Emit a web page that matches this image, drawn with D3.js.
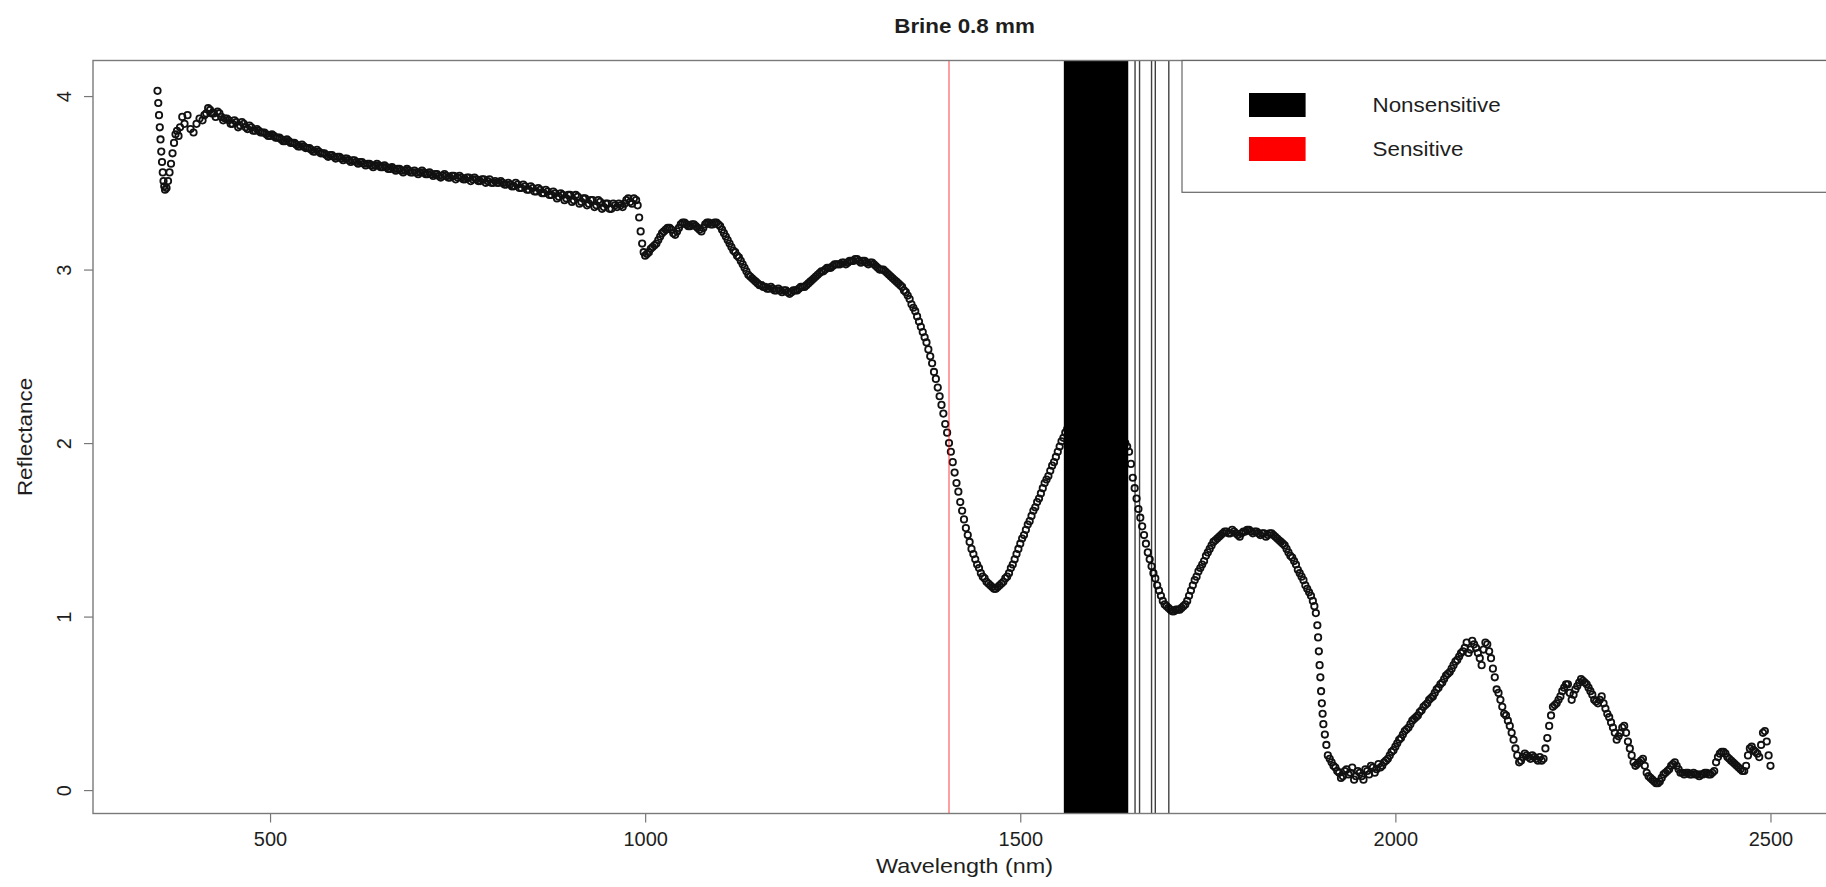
<!DOCTYPE html>
<html><head><meta charset="utf-8">
<script src="https://cdn.jsdelivr.net/npm/d3@7"></script>
<style>
html,body{margin:0;padding:0;background:#fff;overflow:hidden}
text{font-family:"Liberation Sans",Arial,Helvetica,sans-serif;fill:#1e1e1e}
</style>
</head><body>
<svg id="chart" width="1826" height="887"></svg>
<script>
const chartTitle = "Brine 0.8 mm";
const xLabel = "Wavelength (nm)";
const yLabel = "Reflectance";
const xTicks = [500, 1000, 1500, 2000, 2500];
const yTicks = [0, 1, 2, 3, 4];
const legendLabels = ["Nonsensitive", "Sensitive"];
const legendColors = ["#000000", "#ff0000"];
const nonsensitiveBands = [[1559, 1643], [1653, 1653], [1659, 1659], [1675, 1675], [1680, 1680], [1698, 1698]];
const sensitiveBands = [[1405, 1405]];

// spectrum readings (nm)
const wavelengths = [
350,351,352,353,354,355,356,357,358,359,360,362,364,366,368,370,372,374,376,378,380,383,386,390,394,398,402,406,410,415,420,425,430,435,440,445,450,
455,460,465,470,475,480,485,490,495,500,505,510,515,520,525,530,535,540,545,550,555,560,565,570,575,580,585,590,595,600,
605,610,615,620,625,630,635,640,645,650,655,660,665,670,675,680,685,690,695,700,705,710,715,720,725,730,735,740,745,750,
755,760,765,770,775,780,785,790,795,800,805,810,815,820,825,830,835,840,845,850,855,860,865,870,875,880,885,890,895,900,
905,910,915,920,925,930,935,940,945,950,955,960,965,970,975,980,985,988,990,992,994,996,998,1000,
1005,1010,1015,1020,1025,1030,1035,1040,1045,1050,1055,1060,1065,1070,1075,1080,1085,1090,1095,1100,
1105,1110,1115,1120,1125,1130,1135,1140,1145,1150,1155,1160,1165,1170,1175,1180,1185,1190,1195,1200,
1205,1210,1215,1220,1225,1230,1235,1240,1245,1250,1255,1260,1265,1270,1275,1280,1285,1290,1295,1300,
1305,1310,1315,1320,1325,1330,1335,1340,1345,1350,1355,1360,1365,1370,1375,1380,1385,1390,1395,1400,
1405,1410,1415,1420,1425,1430,1435,1440,1445,1450,1455,1460,1465,1470,1475,1480,1485,1490,1495,1500,
1505,1510,1515,1520,1525,1530,1535,1540,1545,1550,1555,1560,1565,1570,1575,1580,1585,1590,1595,1600,
1605,1610,1615,1620,1625,1630,1635,1640,1645,1650,1655,1660,1665,1670,1675,1680,1685,1690,1695,1700,
1705,1710,1715,1720,1725,1730,1735,1740,1745,1750,1755,1760,1765,1770,1775,1780,1785,1790,1795,1800,
1805,1810,1815,1820,1825,1830,1835,1840,1845,1850,1855,1860,1865,1870,1875,1880,1885,1890,
1892,1894,1896,1897,1898,1899,1900,1901,1902,1903,1904,1906,1908,1910,
1915,1920,1925,1930,1935,1940,1945,1950,1955,1960,1965,1970,1975,1980,1985,1990,1995,2000,
2005,2010,2015,2020,2025,2030,2035,2040,2045,2050,2055,2060,2065,2070,2075,2080,2085,2090,2095,2100,
2105,2110,2115,2120,2125,2130,2135,2140,2145,2150,2155,2160,2165,2170,2175,2180,2185,2190,2195,2200,
2205,2210,2215,2220,2225,2230,2235,2240,2245,2250,2255,2260,2265,2270,2275,2280,2285,2290,2295,2300,
2305,2310,2315,2320,2325,2330,2335,2340,2345,2350,2355,2360,2365,2370,2375,2380,2385,2390,2395,2400,
2405,2410,2415,2420,2425,2430,2435,2440,2445,2450,2455,2460,2465,2470,2475,2480,2485,2490,2495,2500
];

const reflectance = [
4.03,3.96,3.89,3.82,3.75,3.68,3.62,3.56,3.51,3.48,3.46,3.47,3.51,3.56,3.61,3.67,3.73,3.78,3.80,3.77,3.82,3.88,3.84,3.89,3.81,3.79,3.84,3.87,3.86,3.90,3.92,3.90,3.91,3.88,3.87,3.86,3.84,
3.85,3.83,3.84,3.81,3.82,3.80,3.80,3.79,3.78,3.77,3.77,3.76,3.75,3.74,3.74,3.73,3.72,3.71,3.71,3.70,3.69,3.68,3.68,3.67,3.66,3.66,3.65,3.65,3.64,3.64,
3.63,3.63,3.62,3.62,3.61,3.61,3.60,3.60,3.60,3.59,3.59,3.58,3.58,3.58,3.57,3.57,3.57,3.56,3.56,3.56,3.56,3.55,3.55,3.55,3.54,3.54,3.54,3.53,3.54,3.53,
3.53,3.52,3.53,3.52,3.52,3.51,3.52,3.51,3.50,3.51,3.50,3.50,3.49,3.49,3.48,3.49,3.47,3.48,3.46,3.47,3.45,3.46,3.44,3.45,3.43,3.44,3.42,3.43,3.41,3.43,
3.40,3.42,3.39,3.41,3.38,3.40,3.37,3.39,3.36,3.38,3.35,3.37,3.38,3.36,3.40,3.39,3.41,3.40,3.37,3.30,3.22,3.15,3.10,3.08,
3.10,3.13,3.15,3.19,3.22,3.24,3.23,3.20,3.24,3.27,3.26,3.25,3.26,3.24,3.22,3.26,3.27,3.26,3.27,3.25,
3.21,3.17,3.13,3.10,3.07,3.03,2.99,2.96,2.94,2.92,2.91,2.90,2.89,2.89,2.88,2.88,2.88,2.87,2.87,2.88,
2.89,2.90,2.91,2.93,2.95,2.97,2.99,3.00,3.01,3.02,3.03,3.03,3.04,3.04,3.05,3.06,3.05,3.05,3.04,3.04,
3.03,3.01,3.00,2.99,2.97,2.95,2.93,2.91,2.88,2.85,2.80,2.76,2.70,2.64,2.58,2.50,2.41,2.32,2.22,2.11,
2.00,1.89,1.77,1.66,1.56,1.47,1.39,1.33,1.28,1.23,1.20,1.18,1.16,1.17,1.19,1.22,1.25,1.30,1.36,1.42,
1.47,1.53,1.58,1.63,1.68,1.74,1.79,1.84,1.89,1.95,2.01,2.06,2.09,2.12,2.14,2.16,2.17,2.18,2.18,2.17,
2.16,2.15,2.13,2.11,2.09,2.06,2.03,2.00,1.95,1.80,1.68,1.57,1.47,1.37,1.29,1.22,1.15,1.09,1.06,1.04,
1.03,1.04,1.05,1.07,1.12,1.18,1.23,1.28,1.32,1.37,1.41,1.44,1.46,1.48,1.49,1.48,1.49,1.47,1.48,1.49,
1.50,1.48,1.49,1.47,1.48,1.47,1.48,1.46,1.44,1.42,1.39,1.35,1.32,1.27,1.23,1.18,1.14,1.09,
1.06,1.02,0.95,0.88,0.80,0.72,0.65,0.57,0.50,0.44,0.38,0.32,0.26,0.20,
0.16,0.13,0.10,0.08,0.12,0.10,0.06,0.11,0.08,0.12,0.09,0.13,0.12,0.13,0.16,0.18,0.22,0.25,
0.29,0.32,0.35,0.38,0.41,0.43,0.46,0.49,0.52,0.54,0.58,0.61,0.64,0.67,0.70,0.74,0.77,0.80,0.85,0.81,
0.84,0.79,0.72,0.85,0.80,0.70,0.58,0.52,0.44,0.40,0.33,0.24,0.16,0.19,0.20,0.18,0.19,0.17,0.17,0.24,
0.37,0.48,0.50,0.54,0.59,0.61,0.52,0.58,0.62,0.63,0.61,0.57,0.52,0.50,0.54,0.47,0.42,0.36,0.29,0.33,
0.37,0.28,0.20,0.14,0.16,0.18,0.10,0.07,0.05,0.04,0.07,0.10,0.12,0.15,0.14,0.10,0.09,0.10,0.09,0.09,
0.08,0.09,0.10,0.09,0.11,0.19,0.22,0.21,0.18,0.16,0.14,0.12,0.11,0.20,0.25,0.22,0.19,0.33,0.28,0.14
];

// additional readings between the ones above (nm)
const wavelengthsMid = [
412.5,417.5,422.5,427.5,432.5,437.5,442.5,447.5,452.5,457.5,462.5,467.5,472.5,477.5,482.5,487.5,492.5,497.5,502.5,507.5,
512.5,517.5,522.5,527.5,532.5,537.5,542.5,547.5,552.5,557.5,562.5,567.5,572.5,577.5,582.5,587.5,592.5,597.5,602.5,607.5,
612.5,617.5,622.5,627.5,632.5,637.5,642.5,647.5,652.5,657.5,662.5,667.5,672.5,677.5,682.5,687.5,692.5,697.5,702.5,707.5,
712.5,717.5,722.5,727.5,732.5,737.5,742.5,747.5,752.5,757.5,762.5,767.5,772.5,777.5,782.5,787.5,792.5,797.5,802.5,807.5,
812.5,817.5,822.5,827.5,832.5,837.5,842.5,847.5,852.5,857.5,862.5,867.5,872.5,877.5,882.5,887.5,892.5,897.5,902.5,907.5,
912.5,917.5,922.5,927.5,932.5,937.5,942.5,947.5,952.5,957.5,962.5,967.5,972.5,977.5,982.5,
1002.5,1007.5,1012.5,1017.5,1022.5,1027.5,1032.5,1037.5,1042.5,1047.5,1052.5,1057.5,1062.5,1067.5,1072.5,1077.5,1082.5,1087.5,1092.5,1097.5,
1102.5,1107.5,1112.5,1117.5,1122.5,1127.5,1132.5,1137.5,1142.5,1147.5,1152.5,1157.5,1162.5,1167.5,1172.5,1177.5,1182.5,1187.5,1192.5,1197.5,
1202.5,1207.5,1212.5,1217.5,1222.5,1227.5,1232.5,1237.5,1242.5,1247.5,1252.5,1257.5,1262.5,1267.5,1272.5,1277.5,1282.5,1287.5,1292.5,1297.5,
1302.5,1307.5,1312.5,1317.5,1322.5,1327.5,1332.5,1337.5,1342.5,1347.5,1352.5,1357.5,1362.5,1367.5,1372.5,1377.5,1382.5,1387.5,1392.5,1397.5,
1402.5,1407.5,1412.5,1417.5,1422.5,1427.5,1432.5,1437.5,1442.5,1447.5,1452.5,1457.5,1462.5,1467.5,1472.5,1477.5,1482.5,1487.5,1492.5,1497.5,
1502.5,1507.5,1512.5,1517.5,1522.5,1527.5,1532.5,1537.5,1542.5,1547.5,1552.5,1557.5,1562.5,1567.5,1572.5,1577.5,1582.5,1587.5,1592.5,1597.5,
1602.5,1607.5,1612.5,1617.5,1622.5,1627.5,1632.5,1637.5,1642.5,1647.5,1652.5,1657.5,1662.5,1667.5,1672.5,1677.5,1682.5,1687.5,1692.5,1697.5,
1702.5,1707.5,1712.5,1717.5,1722.5,1727.5,1732.5,1737.5,1742.5,1747.5,1752.5,1757.5,1762.5,1767.5,1772.5,1777.5,1782.5,1787.5,1792.5,1797.5,
1802.5,1807.5,1812.5,1817.5,1822.5,1827.5,1832.5,1837.5,1842.5,1847.5,1852.5,1857.5,1862.5,1867.5,1872.5,1877.5,1882.5,1887.5,
1912.5,1917.5,1922.5,1927.5,1932.5,1937.5,1942.5,1947.5,1952.5,1957.5,1962.5,1967.5,1972.5,1977.5,1982.5,1987.5,1992.5,1997.5,2002.5,2007.5,
2012.5,2017.5,2022.5,2027.5,2032.5,2037.5,2042.5,2047.5,2052.5,2057.5,2062.5,2067.5,2072.5,2077.5,2082.5,2087.5,2092.5,2097.5,2102.5,2107.5,
2112.5,2117.5,2122.5,2127.5,2132.5,2137.5,2142.5,2147.5,2152.5,2157.5,2162.5,2167.5,2172.5,2177.5,2182.5,2187.5,2192.5,2197.5,2202.5,2207.5,
2212.5,2217.5,2222.5,2227.5,2232.5,2237.5,2242.5,2247.5,2252.5,2257.5,2262.5,2267.5,2272.5,2277.5,2282.5,2287.5,2292.5,2297.5,2302.5,2307.5,
2312.5,2317.5,2322.5,2327.5,2332.5,2337.5,2342.5,2347.5,2352.5,2357.5,2362.5,2367.5,2372.5,2377.5,2382.5,2387.5,2392.5,2397.5,2402.5,2407.5,
2412.5,2417.5,2422.5,2427.5,2432.5,2437.5,2442.5,2447.5,2452.5,2457.5,2462.5,2467.5,2472.5,2477.5,2482.5,2487.5,2492.5,2497.5
];

const reflectanceMid = [
3.89,3.93,3.90,3.88,3.90,3.86,3.87,3.84,3.86,3.82,3.85,3.82,3.83,3.80,3.81,3.79,3.79,3.77,3.78,3.76,
3.76,3.74,3.75,3.73,3.73,3.71,3.72,3.70,3.70,3.68,3.69,3.67,3.67,3.65,3.66,3.64,3.65,3.63,3.64,3.62,
3.63,3.61,3.62,3.60,3.61,3.59,3.61,3.59,3.60,3.58,3.59,3.57,3.58,3.56,3.58,3.56,3.57,3.55,3.57,3.55,
3.56,3.54,3.55,3.53,3.55,3.53,3.54,3.52,3.54,3.52,3.53,3.51,3.53,3.51,3.52,3.50,3.52,3.50,3.50,3.51,
3.49,3.50,3.48,3.50,3.47,3.49,3.46,3.48,3.45,3.47,3.44,3.46,3.43,3.45,3.41,3.44,3.40,3.43,3.39,3.43,
3.38,3.41,3.37,3.40,3.36,3.40,3.35,3.38,3.35,3.38,3.36,3.37,3.38,3.41,3.38,
3.09,3.12,3.14,3.17,3.21,3.23,3.24,3.21,3.22,3.26,3.27,3.25,3.26,3.25,3.23,3.24,3.27,3.26,3.27,3.26,
3.23,3.19,3.15,3.11,3.08,3.05,3.01,2.97,2.95,2.93,2.91,2.90,2.89,2.90,2.88,2.89,2.87,2.88,2.86,2.88,
2.88,2.90,2.90,2.92,2.94,2.96,2.98,2.99,3.01,3.01,3.03,3.03,3.04,3.03,3.05,3.05,3.06,3.04,3.05,3.03,
3.04,3.02,3.00,3.00,2.98,2.96,2.94,2.92,2.90,2.87,2.83,2.78,2.73,2.67,2.61,2.54,2.46,2.37,2.27,2.17,
2.06,1.95,1.83,1.72,1.61,1.51,1.43,1.36,1.30,1.25,1.22,1.19,1.17,1.16,1.18,1.20,1.23,1.28,1.33,1.39,
1.45,1.50,1.55,1.61,1.66,1.71,1.77,1.81,1.87,1.92,1.98,2.03,2.08,2.11,2.13,2.15,2.17,2.17,2.18,2.18,
2.17,2.15,2.14,2.12,2.10,2.08,2.05,2.02,1.98,1.88,1.74,1.62,1.52,1.42,1.33,1.25,1.18,1.12,1.07,1.05,
1.03,1.04,1.04,1.06,1.09,1.15,1.21,1.26,1.30,1.35,1.39,1.43,1.45,1.47,1.49,1.48,1.50,1.48,1.46,1.49,
1.50,1.49,1.49,1.48,1.48,1.46,1.48,1.47,1.45,1.43,1.41,1.37,1.34,1.30,1.25,1.21,1.16,1.12,
0.18,0.14,0.11,0.07,0.11,0.09,0.13,0.08,0.10,0.06,0.11,0.14,0.10,0.15,0.14,0.17,0.20,0.23,0.27,0.30,
0.34,0.36,0.40,0.42,0.45,0.48,0.50,0.53,0.56,0.59,0.62,0.66,0.68,0.72,0.75,0.79,0.82,0.79,0.86,0.82,
0.76,0.81,0.84,0.76,0.65,0.56,0.48,0.43,0.37,0.29,0.20,0.17,0.21,0.19,0.20,0.18,0.19,0.18,0.30,0.43,
0.49,0.52,0.57,0.61,0.56,0.55,0.60,0.64,0.62,0.59,0.55,0.51,0.52,0.50,0.44,0.39,0.33,0.31,0.36,0.33,
0.24,0.16,0.15,0.17,0.14,0.08,0.06,0.04,0.05,0.09,0.11,0.14,0.16,0.12,0.10,0.10,0.09,0.10,0.09,0.09,
0.10,0.09,0.10,0.16,0.21,0.22,0.19,0.17,0.15,0.13,0.11,0.14,0.24,0.23,0.21,0.26,0.34,0.20
];

const svg = d3.select("#chart");
const W = 1826, H = 887;
svg.append("rect").attr("width", W).attr("height", H).attr("fill", "#ffffff");

const plot = {left: 93, right: 1835, top: 60.5, bottom: 813.5};
const x = d3.scaleLinear().domain([264, 2586]).range([plot.left, plot.right]);
const y = d3.scaleLinear().domain([-0.135, 4.205]).range([plot.bottom, plot.top]);

const pts = wavelengths.map((w, i) => ({w: w, r: reflectance[i]}))
  .concat(wavelengthsMid.slice(0, reflectanceMid.length).map((w, i) => ({w: w, r: reflectanceMid[i]})))
  .sort((a, b) => a.w - b.w);

// points (open circles)
svg.append("g").selectAll("circle").data(pts).join("circle")
  .attr("cx", d => x(d.w)).attr("cy", d => y(d.r)).attr("r", 3.2)
  .attr("fill", "none").attr("stroke", "#111").attr("stroke-width", 1.8);

// vertical band lines
const vg = svg.append("g");
vg.selectAll("rect.ns").data(nonsensitiveBands).join("rect").attr("class", "ns")
  .attr("x", d => x(d[0]) - 0.7).attr("width", d => x(d[1]) - x(d[0]) + 1.4)
  .attr("y", plot.top).attr("height", plot.bottom - plot.top)
  .attr("fill", legendColors[0]).attr("opacity", d => d[0] === d[1] ? 0.75 : 1);
vg.selectAll("rect.s").data(sensitiveBands).join("rect").attr("class", "s")
  .attr("x", d => x(d[0]) - 0.5).attr("width", d => x(d[1]) - x(d[0]) + 1)
  .attr("y", plot.top).attr("height", plot.bottom - plot.top)
  .attr("fill", legendColors[1]).attr("opacity", 0.75);

// axes
const xAxis = svg.append("g").attr("transform", `translate(0,${plot.bottom})`)
  .call(d3.axisBottom(x).tickValues(xTicks).tickSize(9).tickFormat(d3.format("d")));
xAxis.select(".domain").remove();
xAxis.selectAll(".tick line").attr("stroke", "#777").attr("stroke-width", 1.2);
xAxis.selectAll(".tick text").attr("y", 32).attr("dy", 0)
  .style("font-size", "20px").attr("fill", "#1e1e1e");

const yAxis = svg.append("g").attr("transform", `translate(${plot.left},0)`)
  .call(d3.axisLeft(y).tickValues(yTicks).tickSize(9).tickFormat(d3.format("d")));
yAxis.select(".domain").remove();
yAxis.selectAll(".tick line").attr("stroke", "#777").attr("stroke-width", 1.2);
yAxis.selectAll(".tick text").attr("transform", "rotate(-90)")
  .attr("x", 0).attr("y", -22).attr("dy", 0).attr("text-anchor", "middle")
  .style("font-size", "20px").attr("fill", "#1e1e1e");

// plot box
svg.append("rect").attr("x", plot.left).attr("y", plot.top)
  .attr("width", plot.right - plot.left).attr("height", plot.bottom - plot.top)
  .attr("fill", "none").attr("stroke", "#7a7a7a").attr("stroke-width", 1.4);

// legend
const lg = svg.append("g");
lg.append("rect").attr("x", 1182).attr("y", plot.top).attr("width", plot.right - 1182)
  .attr("height", 192.3 - plot.top).attr("fill", "#fff").attr("stroke", "#666").attr("stroke-width", 1.2);
legendLabels.forEach((lab, i) => {
  lg.append("rect").attr("x", 1249).attr("y", 93 + i * 44).attr("width", 56.6).attr("height", 24)
    .attr("fill", legendColors[i]);
  lg.append("text").attr("transform", `translate(1372.5,${112 + i * 44}) scale(1.12,1)`)
    .style("font-size", "20px").text(lab);
});

// titles
svg.append("text").attr("transform", "translate(964.5,33) scale(1.12,1)")
  .attr("text-anchor", "middle").style("font-size", "20px").style("font-weight", "bold").text(chartTitle);
svg.append("text").attr("transform", "translate(964.5,873) scale(1.17,1)")
  .attr("text-anchor", "middle").style("font-size", "20px").text(xLabel);
svg.append("text").attr("transform", "translate(32,437) rotate(-90) scale(1.12,1)")
  .attr("text-anchor", "middle").style("font-size", "20px").text(yLabel);
</script>
</body></html>
